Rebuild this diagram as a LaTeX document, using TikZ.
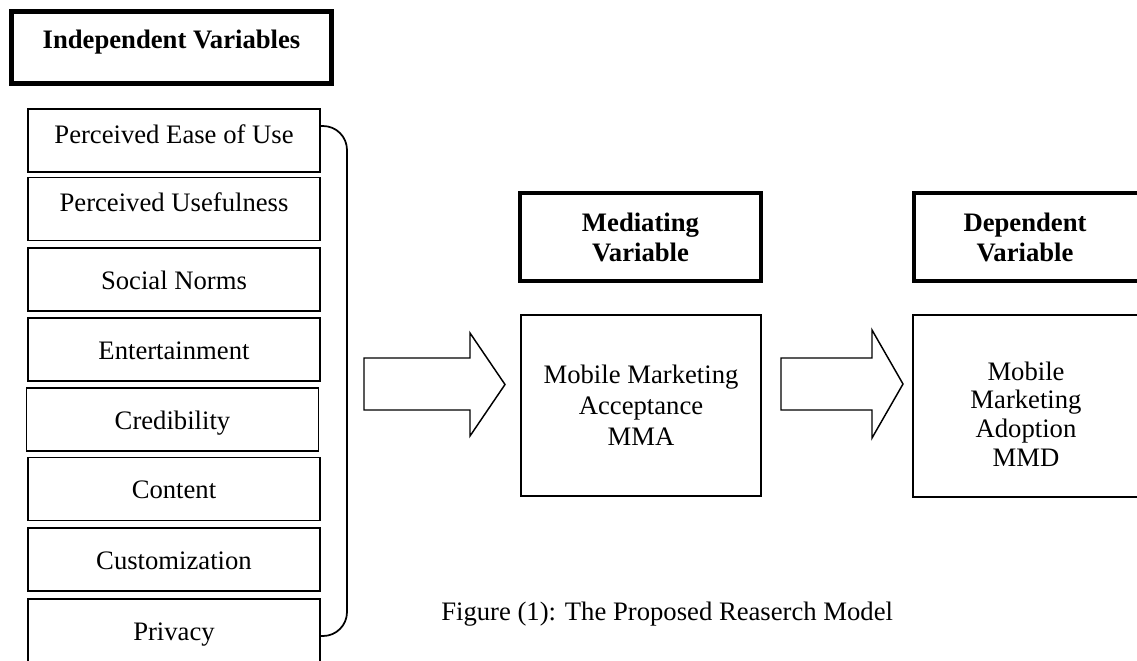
\documentclass[tikz,border=0pt]{standalone}
\usepackage{fontspec}
\setmainfont{Liberation Serif}
\begin{document}
\begin{tikzpicture}[x=0.75pt,y=-0.75pt,
  every node/.style={font=\fontsize{20}{23}\selectfont, inner sep=0pt, outer sep=0pt},
  itembox/.style={draw, line width=0.9pt, minimum width=219pt},
  firstrow/.style={text height=25.5pt, text depth=21.75pt},
  laterrow/.style={text height=30.75pt, text depth=16.5pt},
  headbox/.style={draw, line width=3.5pt, font=\fontsize{20}{22.5}\selectfont\bfseries, align=center},
  mainbox/.style={draw, line width=1.1pt},
  blockarrow/.style={draw, line width=1.1pt, fill=white, line join=miter},
  bracket/.style={draw, line width=1.3pt, rounded corners=18pt}]
\useasboundingbox (0,0) rectangle (1137,660);
\clip (0,0) rectangle (1137,660);

% Independent variables heading
\node[headbox, minimum width=240pt, text height=27.4pt, text depth=26.6pt] (ind) at (171.5,47.5) {Independent Variables};

% Item boxes
\node[itembox, firstrow] (b1) at (174,140.5) {Perceived Ease of Use};
\node[itembox, firstrow] (b2) at (174,209) {Perceived Usefulness};
\node[itembox, laterrow] (b3) at (174,279.5) {Social Norms};
\node[itembox, laterrow] (b4) at (174,349.5) {Entertainment};
\node[itembox, laterrow] (b5) at (172.5,419.5) {Credibility};
\node[itembox, laterrow] (b6) at (174,489) {Content};
\node[itembox, laterrow] (b7) at (174,559.5) {Customization};
\node[itembox, laterrow] (b8) at (174,630.5) {Privacy};

% Bracket
\coordinate (bt) at (320,126);
\coordinate (bb) at (320,636);
\path[bracket] (bt) -- (347,126) -- (347,636) -- (bb);

% Mediating heading and box
\node[headbox, minimum width=180.75pt, minimum height=66pt] (med) at (640.5,237) {Mediating\\Variable};
\node[mainbox, minimum width=180pt, minimum height=135.75pt, align=center, font=\fontsize{20}{23.25}\selectfont] (mma) at (641,405.5) {Mobile Marketing\\Acceptance\\MMA};

% Dependent heading and box
\node[headbox, minimum width=184.5pt, minimum height=66pt] (dep) at (1037,237) {};
\node[font=\fontsize{20}{22.5}\selectfont\bfseries, align=center] (deptext) at (1025,237) {Dependent\\Variable};
\node[mainbox, minimum width=185.25pt, minimum height=136.5pt] (mmd) at (1036.5,406) {};
\node[align=center, font=\fontsize{20}{21.4}\selectfont] (mmdtext) at (1026,414) {Mobile\\Marketing\\Adoption\\MMD};

% Block arrows
\path[blockarrow] (364,358) -- (470,358) -- (470,333) -- (505,384.5) -- (470,436) -- (470,410) -- (364,410) -- cycle;
\path[blockarrow] (781,358) -- (872,358) -- (872,330) -- (903,384) -- (872,438) -- (872,410) -- (781,410) -- cycle;

% Caption
\node[anchor=base east] (cap) at (893,620) {Figure (1): The Proposed Reaserch Model};
\end{tikzpicture}
\end{document}
